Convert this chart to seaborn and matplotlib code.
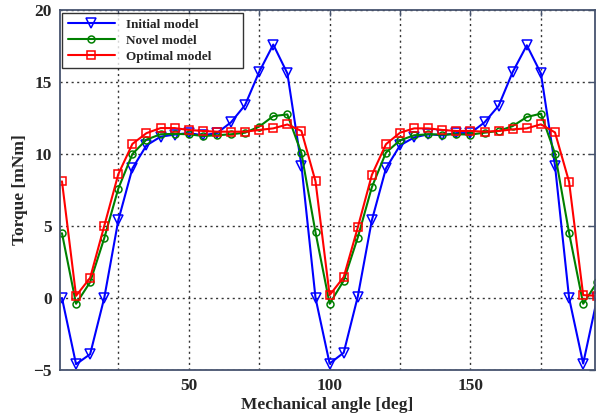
import numpy as np
import pandas as pd
import matplotlib
matplotlib.use("Agg")
import matplotlib.pyplot as plt
import seaborn as sns

angle = list(range(5, 200, 5))

initial_model = [0, -4.6, -3.9, 0, 5.4, 9.0, 10.6, 11.2, 11.35, 11.45, 11.3, 11.45, 12.2,
                 13.4, 15.7, 17.6, 15.6, 9.2, 0, -4.55, -3.8, 0.1, 5.4, 9.0, 10.6, 11.15,
                 11.37, 11.3, 11.45, 11.45, 12.2, 13.35, 15.7, 17.55, 15.6, 9.2, 0, -4.55, 0]
novel_model = [4.5, -0.4, 1.1, 4.15, 7.6, 10.0, 11.0, 11.37, 11.4, 11.37, 11.25, 11.3, 11.37,
               11.48, 11.9, 12.63, 12.75, 10.05, 4.55, -0.4, 1.2, 4.2, 7.7, 10.1, 10.95, 11.3,
               11.37, 11.35, 11.37, 11.35, 11.48, 11.6, 11.94, 12.57, 12.8, 10.03, 4.52, -0.4, 1.1]
optimal_model = [8.1, 0.15, 1.4, 5.0, 8.6, 10.7, 11.45, 11.8, 11.8, 11.67, 11.6, 11.55, 11.55,
                 11.55, 11.67, 11.78, 12.05, 11.6, 8.1, 0.2, 1.45, 4.9, 8.55, 10.68, 11.48, 11.78,
                 11.78, 11.67, 11.6, 11.6, 11.55, 11.6, 11.71, 11.78, 12.06, 11.5, 8.07, 0.2, 0.15]

series_names = ["Initial model", "Novel model", "Optimal model"]
series_colors = ["#0000ff", "#008000", "#ff0000"]
series_markers = ["v", "o", "s"]
series_msize = [6.5, 5.0, 6.0]

xticks = [25, 50, 75, 100, 125, 150, 175]
xticklabels = ["", "50", "", "100", "", "150", ""]
yticks = [-5, 0, 5, 10, 15, 20]

sns.set_style("white")
plt.rcParams["font.family"] = ["Liberation Serif", "DejaVu Serif"]
plt.rcParams["font.weight"] = "bold"

fig = plt.figure(figsize=(5.99, 4.18), dpi=100)
ax = fig.add_axes([60/599, 48/418, 535/599, 360/418])

df = pd.DataFrame({"angle": angle, "Initial model": initial_model,
                   "Novel model": novel_model, "Optimal model": optimal_model})

for name, c, m, ms in zip(series_names, series_colors, series_markers, series_msize):
    sns.lineplot(data=df, x="angle", y=name, ax=ax, color=c, marker=m, markersize=ms,
                 markerfacecolor="none", markeredgecolor=c, markeredgewidth=1.1,
                 linewidth=1.5, label=name, sort=False)

ax.set_xlim(4.3, 194.2)
ax.set_ylim(-5, 20)
ax.set_xticks(xticks)
ax.set_xticklabels(xticklabels)
ax.set_yticks(yticks)
ax.grid(True, color="#333333", linestyle=(0, (1.5, 2.5)), linewidth=1.0)
ax.set_axisbelow(True)

for sp in ax.spines.values():
    sp.set_visible(True)
    sp.set_color("#46536e")
    sp.set_linewidth(1.3)

ax.tick_params(direction="in", length=4, width=1, color="#46536e",
               top=True, right=True, labelsize=12.5, pad=6)
for lab in ax.get_xticklabels() + ax.get_yticklabels():
    lab.set_fontweight("bold")

ax.set_xlabel("Mechanical angle [deg]", fontsize=12.5, fontweight="bold", labelpad=2)
ax.set_ylabel("Torque [mNm]", fontsize=12.5, fontweight="bold", labelpad=4)

leg = ax.legend(loc="upper left", bbox_to_anchor=(0.004, 0.992, 0.338, 0.0), mode="expand",
                fontsize=9.5, handlelength=3.6, frameon=True,
                fancybox=False, edgecolor="black", borderaxespad=0.0,
                labelspacing=0.28, borderpad=0.42, handletextpad=0.8)
leg.get_frame().set_linewidth(1.0)
for t in leg.get_texts():
    t.set_fontweight("bold")

fig.savefig("out.png", dpi=100)
